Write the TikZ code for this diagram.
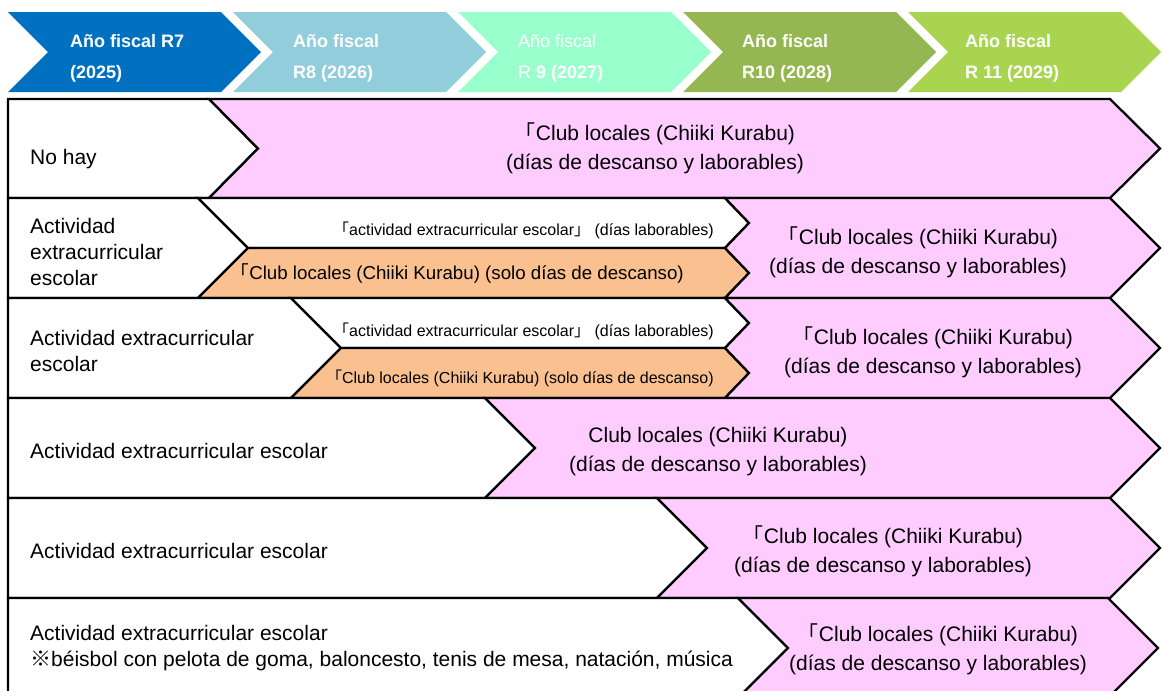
\documentclass[tikz,border=0pt]{standalone}
\usepackage{fontspec}
\setmainfont{Liberation Sans}
\newfontfamily\cjk{Noto Sans CJK JP}
\newcommand\lbr{{\cjk 「}}
\newcommand\rbr{{\cjk 」}}
\newcommand\kome{{\cjk ※}}
\definecolor{cA}{HTML}{0070C0}
\definecolor{cB}{HTML}{92CDDC}
\definecolor{cC}{HTML}{99FFCC}
\definecolor{cD}{HTML}{95B752}
\definecolor{cE}{HTML}{A9D450}
\definecolor{pinkF}{HTML}{FFCCFF}
\definecolor{orF}{HTML}{FAC090}
\tikzset{
  hdr/.style={anchor=west, inner sep=0pt, text=white, align=left, font=\fontsize{18}{31}\selectfont\bfseries},
  hdrthin/.style={anchor=west, inner sep=0pt, text=white, align=left, font=\fontsize{18}{31}\selectfont},
  lbl/.style={anchor=west, inner sep=0pt, align=left, font=\fontsize{21}{26}\selectfont},
  club/.style={inner sep=0pt, align=center, font=\fontsize{21}{29}\selectfont},
  small/.style={anchor=east, inner sep=0pt, font=\fontsize{16}{20}\selectfont},
  mid/.style={anchor=east, inner sep=0pt, font=\fontsize{18.7}{22}\selectfont},
  cell/.style={draw=black, line width=2.3pt, line join=miter},
}
\begin{document}
\begin{tikzpicture}[x=1pt,y=-1pt]
\useasboundingbox (0,0) rectangle (1163,691);
\clip (0,0) rectangle (1163,691);
% header chevrons
\foreach \i/\c in {0/cA,1/cB,2/cC,3/cD,4/cE}{
  \pgfmathsetmacro{\xo}{8+225*\i}
  \fill[\c] (\xo,12) -- (\xo+213,12) -- (\xo+253,52) -- (\xo+213,92) -- (\xo,92) -- (\xo+40,52) -- cycle;
}
\node[hdr] (h1) at (70,58.5) {Año fiscal R7\\(2025)};
\node[hdr] (h2) at (293,58.5) {Año fiscal\\R8 (2026)};
\node[hdrthin] (h3) at (518,58.5) {Año fiscal\\R \textbf{9 (2027)}};
\node[hdr] (h4) at (742,58.5) {Año fiscal\\R10 (2028)};
\node[hdr] (h5) at (965,58.5) {Año fiscal\\R 11 (2029)};
% row 1
\filldraw[cell, fill=white] (8,99) -- (209,99) -- (258,148.5) -- (209,198) -- (8,198) -- cycle;
\filldraw[cell, fill=pinkF] (209,99) -- (1110,99) -- (1160,148.5) -- (1110,198) -- (209,198) -- (258,148.5) -- cycle;
% row 2
\filldraw[cell, fill=white] (8,198) -- (198,198) -- (248,248) -- (198,298) -- (8,298) -- cycle;
\filldraw[cell, fill=white] (198,198) -- (725,198) -- (749,223) -- (725,248) -- (248,248) -- cycle;
\filldraw[cell, fill=orF] (248,248) -- (725,248) -- (749,273) -- (725,298) -- (198,298) -- cycle;
\filldraw[cell, fill=pinkF] (725,198) -- (1110,198) -- (1160,248) -- (1110,298) -- (725,298) -- (749,273) -- (725,248) -- (749,223) -- cycle;
% row 3
\filldraw[cell, fill=white] (8,298) -- (291,298) -- (341,348) -- (291,398) -- (8,398) -- cycle;
\filldraw[cell, fill=white] (291,298) -- (725,298) -- (749,323) -- (725,348) -- (341,348) -- cycle;
\filldraw[cell, fill=orF] (341,348) -- (725,348) -- (749,373) -- (725,398) -- (291,398) -- cycle;
\filldraw[cell, fill=pinkF] (725,298) -- (1110,298) -- (1160,348) -- (1110,398) -- (725,398) -- (749,373) -- (725,348) -- (749,323) -- cycle;
% row 4
\filldraw[cell, fill=white] (8,398) -- (485,398) -- (535,448) -- (485,498) -- (8,498) -- cycle;
\filldraw[cell, fill=pinkF] (485,398) -- (1110,398) -- (1160,448) -- (1110,498) -- (485,498) -- (535,448) -- cycle;
% row 5
\filldraw[cell, fill=white] (8,498) -- (657,498) -- (707,548) -- (657,598) -- (8,598) -- cycle;
\filldraw[cell, fill=pinkF] (657,498) -- (1110,498) -- (1160,548) -- (1110,598) -- (657,598) -- (707,548) -- cycle;
% row 6
\filldraw[cell, fill=white] (8,598) -- (738,598) -- (788,648) -- (738,698) -- (8,698) -- cycle;
\filldraw[cell, fill=pinkF] (738,598) -- (1108,598) -- (1158,648) -- (1108,698) -- (738,698) -- (788,648) -- cycle;
% texts
\node[lbl] (l1) at (30,159) {No hay};
\node[club] (c1) at (655,148) {\lbr Club locales (Chiiki Kurabu)\\(días de descanso y laborables)};
\node[lbl] (l2) at (30,252) {Actividad\\extracurricular\\escolar};
\node[small] (s2a) at (714,230) {\lbr actividad extracurricular escolar\rbr\ (días laborables)};
\node[mid] (s2b) at (684,274) {\lbr Club locales (Chiiki Kurabu) (solo días de descanso)};
\node[club] (c2) at (918,252) {\lbr Club locales (Chiiki Kurabu)\\(días de descanso y laborables)};
\node[lbl] (l3) at (30,350.5) {Actividad extracurricular\\escolar};
\node[small] (s3a) at (714,331) {\lbr actividad extracurricular escolar\rbr\ (días laborables)};
\node[small] (s3b) at (714,378) {\lbr Club locales (Chiiki Kurabu) (solo días de descanso)};
\node[club] (c3) at (933,352) {\lbr Club locales (Chiiki Kurabu)\\(días de descanso y laborables)};
\node[lbl] (l4) at (30,451) {Actividad extracurricular escolar};
\node[club] (c4) at (718,452) {Club locales (Chiiki Kurabu)\\(días de descanso y laborables)};
\node[lbl] (l5) at (30,551) {Actividad extracurricular escolar};
\node[club] (c5) at (883,551) {\lbr Club locales (Chiiki Kurabu)\\(días de descanso y laborables)};
\node[lbl] (l6) at (30,648.5) {Actividad extracurricular escolar\\\kome béisbol con pelota de goma, baloncesto, tenis de mesa, natación, música};
\node[club] (c6) at (938,649) {\lbr Club locales (Chiiki Kurabu)\\(días de descanso y laborables)};
\end{tikzpicture}
\end{document}
